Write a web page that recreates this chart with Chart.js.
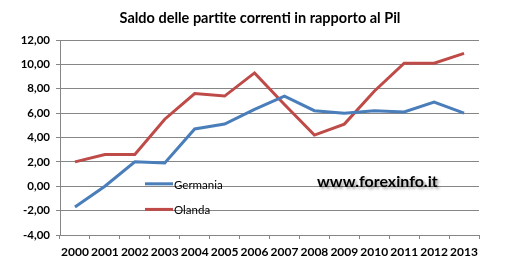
<!DOCTYPE html>
<html>
<head>
<meta charset="utf-8">
<script src="https://cdn.jsdelivr.net/npm/chart.js@4"></script>
<style>
  html, body { margin: 0; padding: 0; background: #fff; }
  #wrap { width: 527px; height: 272px; }
</style>
</head>
<body>
<div id="wrap"><canvas id="chart" width="527" height="272"></canvas></div>
<script>
// Saldo delle partite correnti in rapporto al Pil
const years = ['2000', '2001', '2002', '2003', '2004', '2005', '2006', '2007', '2008', '2009', '2010', '2011', '2012', '2013'];
const germania = [-1.7, 0.0, 2.0, 1.9, 4.7, 5.1, 6.3, 7.4, 6.2, 6.0, 6.2, 6.1, 6.9, 6.0];
const olanda = [2.0, 2.6, 2.6, 5.5, 7.6, 7.4, 9.3, 6.7, 4.2, 5.1, 7.8, 10.1, 10.1, 10.9];
const yTicks = [-4, -2, 0, 2, 4, 6, 8, 10, 12];
const title = 'Saldo delle partite correnti in rapporto al Pil';

const BLUE = '#4a7ebb';
const RED = '#be4b48';
const FONT = 'Lato, "Open Sans", sans-serif';

// title, legend + watermark drawn by hand (legend sits inside the plot area)
const overlay = {
    id: 'overlay',
    afterDraw(chart) {
        const ctx = chart.ctx;
        const y = chart.scales.y;
        const x0 = chart.chartArea.left + 85;
        ctx.save();
        ctx.fillStyle = '#000';
        ctx.textAlign = 'center';
        ctx.textBaseline = 'middle';
        ctx.font = 'bold 14.5px ' + FONT;
        ctx.fillText(title, 260, 18);

        ctx.textAlign = 'left';
        ctx.font = '11.5px ' + FONT;
        const items = [['Germania', BLUE, y.getPixelForValue(0.2)], ['Olanda', RED, y.getPixelForValue(-1.9)]];
        items.forEach(([label, color, py]) => {
            ctx.strokeStyle = color;
            ctx.lineWidth = 3;
            ctx.beginPath();
            ctx.moveTo(x0, py);
            ctx.lineTo(x0 + 28, py);
            ctx.stroke();
            ctx.fillStyle = '#000';
            ctx.fillText(label, x0 + 29, py + 1);
        });

        ctx.font = 'bold 16px ' + FONT;
        ctx.shadowColor = 'rgba(0,0,0,0.4)';
        ctx.shadowOffsetX = 2;
        ctx.shadowOffsetY = 2;
        ctx.shadowBlur = 3;
        ctx.fillText('www.forexinfo.it', 317, y.getPixelForValue(0.4));
        ctx.restore();
    }
};

new Chart(document.getElementById('chart'), {
    type: 'line',
    data: {
        labels: years,
        datasets: [
            { label: 'Germania', data: germania, borderColor: BLUE, borderWidth: 3, pointRadius: 0, tension: 0 },
            { label: 'Olanda', data: olanda, borderColor: RED, borderWidth: 3, pointRadius: 0, tension: 0 }
        ]
    },
    options: {
        responsive: false,
        animation: false,
        layout: { padding: { top: 40, right: 48, bottom: 8, left: 0 } },
        plugins: {
            legend: { display: false },
            tooltip: { enabled: false },
            title: { display: false }
        },
        scales: {
            x: {
                offset: true,
                grid: { drawOnChartArea: false, offset: true, tickLength: 4, color: '#868686' },
                border: { color: '#868686' },
                afterFit(scale) { scale.height = 29; },
                ticks: { color: '#000', font: { family: FONT, size: 12, weight: 'bold' }, maxRotation: 0, autoSkip: false, padding: 6 }
            },
            y: {
                min: -4,
                max: 12,
                afterBuildTicks(scale) { scale.ticks = yTicks.map(v => ({ value: v })); },
                afterFit(scale) { scale.width = 60; },
                grid: { color: '#868686', tickLength: 4 },
                border: { color: '#868686' },
                ticks: {
                    color: '#000',
                    font: { family: FONT, size: 11.5, weight: 'bold' },
                    padding: 6,
                    callback: v => v.toFixed(2).replace('.', ',')
                }
            }
        }
    },
    plugins: [overlay]
});
</script>
</body>
</html>
